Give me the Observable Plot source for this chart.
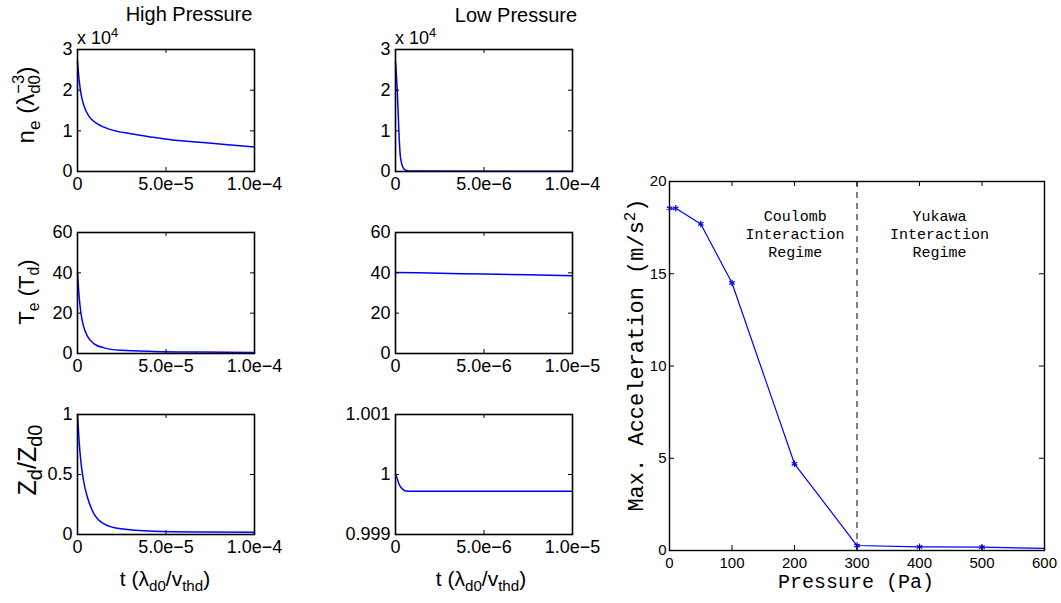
<!DOCTYPE html>
<html><head><meta charset="utf-8">
<script src="https://cdn.jsdelivr.net/npm/d3@7"></script>
<script src="https://cdn.jsdelivr.net/npm/@observablehq/plot@0.6"></script>
<style>
body{margin:0;background:#fff;}
#fig{position:relative;width:1061px;height:603px;overflow:hidden;background:#fff;}
#fig svg{position:absolute;overflow:visible;}
.lbl{position:absolute;white-space:nowrap;font-family:"Liberation Sans",Arial,sans-serif;color:#000;line-height:1;}
.rot{transform:translate(-50%,-50%) rotate(-90deg);}
.ctr{transform:translate(-50%,-50%);}
.stk{display:inline-flex;flex-direction:column;font-size:0.7em;line-height:0.95;vertical-align:0.6em;}
sub,sup{font-size:0.72em;line-height:0;}
.big sub{font-size:0.8em;}
</style></head><body><div id="fig"></div><script>
// ---------- data ----------
// High pressure (time in λd0/vthd)
const tNeHigh = [0, 0.9e-6, 1.9e-6, 3.8e-6, 6.6e-6, 1.13e-5, 1.88e-5, 3.0e-5, 4.14e-5, 5.27e-5, 6.9e-5, 8.5e-5, 1.0e-4];
const neHigh  = [2.71, 2.26, 1.93, 1.60, 1.35, 1.17, 1.03, 0.93, 0.85, 0.78, 0.72, 0.66, 0.60]; // ×10^4
const tTeHigh = [0, 0.9e-6, 1.9e-6, 3.4e-6, 5.6e-6, 9.4e-6, 1.5e-5, 2.45e-5, 4.3e-5, 7.0e-5, 1.0e-4];
const teHigh  = [40.1, 28.5, 20.2, 13.6, 8.6, 4.8, 2.8, 1.6, 1.0, 0.7, 0.5];
const tZdHigh = [0, 0.9e-6, 1.9e-6, 3.4e-6, 5.6e-6, 9.4e-6, 1.5e-5, 2.45e-5, 4.3e-5, 7.0e-5, 1.0e-4];
const zdHigh  = [1.0, 0.78, 0.61, 0.45, 0.31, 0.17, 0.089, 0.047, 0.027, 0.021, 0.019];
// Low pressure
const tNeLow = [0, 1.0e-7, 1.9e-7, 2.8e-7, 4.7e-7, 7.0e-7, 1.0e-5];
const neLow  = [2.7, 2.0, 1.0, 0.35, 0.07, 0.01, 0.005]; // ×10^4
const tTeLow = [0, 2.5e-6, 5.0e-6, 7.5e-6, 1.0e-5];
const teLow  = [40.2, 39.8, 39.4, 39.0, 38.6];
const tZdLow = [0, 1.0e-7, 1.9e-7, 3.8e-7, 6.6e-7, 1.0e-6, 1.0e-5];
const zdLow  = [1.0, 0.99993, 0.999845, 0.99976, 0.99972, 0.99972, 0.99972];
// Max acceleration vs pressure
const pressure = [0, 10, 50, 100, 200, 300, 400, 500, 600];
const accel    = [18.55, 18.55, 17.7, 14.5, 4.7, 0.27, 0.2, 0.18, 0.12];

// tick values and labels
const xTicksHigh = [0, 5e-5, 1e-4];
const xLabelsHigh = ["0", "5.0e\u22125", "1.0e\u22124"];
const xTicksLow = [0, 5e-6, 1e-5];
const xLabelsNeLow = ["0", "5.0e\u22126", "1.0e\u22124"];
const xLabelsLow = ["0", "5.0e\u22126", "1.0e\u22125"];
const yTicksNe = [0, 1, 2, 3];
const yLabelsNe = ["0", "1", "2", "3"];
const yTicksTe = [0, 20, 40, 60];
const yLabelsTe = ["0", "20", "40", "60"];
const yTicksZdHigh = [0, 0.5, 1];
const yLabelsZdHigh = ["0", "0.5", "1"];
const yTicksZdLow = [0.999, 1, 1.001];
const yLabelsZdLow = ["0.999", "1", "1.001"];
const xTicksP = [0, 100, 200, 300, 400, 500, 600];
const xLabelsP = ["0", "100", "200", "300", "400", "500", "600"];
const yTicksA = [0, 5, 10, 15, 20];
const yLabelsA = ["0", "5", "10", "15", "20"];

const zip = (ts, vs) => ts.map((t, i) => ({t, v: vs[i]}));
const BLUE = "#0000ff";

// ---------- helpers ----------
const fig = document.getElementById("fig");
function panel(o) {
  const {left, top, w, h, xDomain, yDomain, xTicks, xLabels, yTicks, yLabels, marks,
         fontSize = 18, font = "Liberation Sans, Arial, sans-serif", xPad = 6, yPad = 5, frameWidth = 1.6, tick = 4} = o;
  const ml = 80, mr = 40, mt = 14, mb = 40;
  const xMap = new Map(xTicks.map((d, i) => [d, xLabels[i]]));
  const yMap = new Map(yTicks.map((d, i) => [d, yLabels[i]]));
  const svg = Plot.plot({
    width: w + ml + mr, height: h + mt + mb,
    marginLeft: ml, marginRight: mr, marginTop: mt, marginBottom: mb,
    x: {domain: xDomain}, y: {domain: yDomain},
    style: {fontFamily: font, fontSize: fontSize + "px", color: "#000", background: "transparent", overflow: "visible"},
    marks: [
      ...marks,
      Plot.ruleX(xTicks, {x: d => d, insetTop: h - tick, stroke: "#000"}),
      Plot.ruleX(xTicks, {x: d => d, insetBottom: h - tick, stroke: "#000"}),
      Plot.ruleY(yTicks, {y: d => d, insetRight: w - tick, stroke: "#000"}),
      Plot.ruleY(yTicks, {y: d => d, insetLeft: w - tick, stroke: "#000"}),
      Plot.frame({stroke: "#000", strokeWidth: frameWidth}),
      Plot.axisX(xTicks, {tickSize: 0, tickPadding: xPad, tickFormat: d => xMap.get(d), label: null, fontSize}),
      Plot.axisY(yTicks, {tickSize: 0, tickPadding: yPad, tickFormat: d => yMap.get(d), label: null, fontSize})
    ]
  });
  svg.style.left = (left - ml) + "px";
  svg.style.top = (top - mt) + "px";
  fig.appendChild(svg);
}
function label(html, x, y, cls, size, font) {
  const d = document.createElement("div");
  d.className = "lbl " + cls;
  d.style.left = x + "px"; d.style.top = y + "px";
  d.style.fontSize = size + "px";
  if (font) d.style.fontFamily = font;
  d.innerHTML = html;
  fig.appendChild(d);
}
const curve = (ts, vs) => Plot.line(zip(ts, vs), {x: "t", y: "v", stroke: BLUE, strokeWidth: 1.5, curve: "monotone-x"});

// ---------- small panels ----------
const colL = 77, colR = 395, pw = 177;
const rows = [[49, 122], [232, 121], [414, 120]];

panel({left: colL, top: rows[0][0], w: pw, h: rows[0][1], xDomain: [0, 1e-4], yDomain: [0, 3],
  xTicks: xTicksHigh, xLabels: xLabelsHigh, yTicks: yTicksNe, yLabels: yLabelsNe, marks: [curve(tNeHigh, neHigh)]});
panel({left: colR, top: rows[0][0], w: pw, h: rows[0][1], xDomain: [0, 1e-5], yDomain: [0, 3],
  xTicks: xTicksLow, xLabels: xLabelsNeLow, yTicks: yTicksNe, yLabels: yLabelsNe, marks: [curve(tNeLow, neLow)]});
panel({left: colL, top: rows[1][0], w: pw, h: rows[1][1], xDomain: [0, 1e-4], yDomain: [0, 60],
  xTicks: xTicksHigh, xLabels: xLabelsHigh, yTicks: yTicksTe, yLabels: yLabelsTe, marks: [curve(tTeHigh, teHigh)]});
panel({left: colR, top: rows[1][0], w: pw, h: rows[1][1], xDomain: [0, 1e-5], yDomain: [0, 60],
  xTicks: xTicksLow, xLabels: xLabelsLow, yTicks: yTicksTe, yLabels: yLabelsTe, marks: [curve(tTeLow, teLow)]});
panel({left: colL, top: rows[2][0], w: pw, h: rows[2][1], xDomain: [0, 1e-4], yDomain: [0, 1],
  xTicks: xTicksHigh, xLabels: xLabelsHigh, yTicks: yTicksZdHigh, yLabels: yLabelsZdHigh, marks: [curve(tZdHigh, zdHigh)]});
panel({left: colR, top: rows[2][0], w: pw, h: rows[2][1], xDomain: [0, 1e-5], yDomain: [0.999, 1.001],
  xTicks: xTicksLow, xLabels: xLabelsLow, yTicks: yTicksZdLow, yLabels: yLabelsZdLow, marks: [curve(tZdLow, zdLow)]});

// ---------- big panel ----------
const accData = pressure.map((p, i) => ({p, a: accel[i]}));
const mono = "Liberation Mono, Courier New, monospace";
panel({left: 669, top: 181, w: 375, h: 369, xDomain: [0, 600], yDomain: [0, 20],
  xTicks: xTicksP, xLabels: xLabelsP, yTicks: yTicksA, yLabels: yLabelsA,
  fontSize: 15, xPad: 7, yPad: 3, frameWidth: 1.4, tick: 5,
  marks: [
    Plot.ruleX([300], {x: d => d, stroke: "#000", strokeWidth: 1, strokeDasharray: "6,5"}),
    Plot.line(accData, {x: "p", y: "a", stroke: BLUE, strokeWidth: 1.2}),
    Plot.dot(accData.filter(d => d.p < 600), {x: "p", y: "a", symbol: "asterisk", r: 3, stroke: BLUE, strokeWidth: 1.2}),
    Plot.text(["Coulomb\nInteraction\nRegime"], {x: 201, y: 17.2, text: d => d, fontFamily: mono, fontSize: 15, lineHeight: 1.2, lineAnchor: "middle", fill: "#000"}),
    Plot.text(["Yukawa\nInteraction\nRegime"], {x: 432, y: 17.2, text: d => d, fontFamily: mono, fontSize: 15, lineHeight: 1.2, lineAnchor: "middle", fill: "#000"})
  ]});

// ---------- text labels ----------
label("High Pressure", 189, 14, "ctr", 20);
label("Low Pressure", 516, 15, "ctr", 20);
label("x 10<sup>4</sup>", 77, 29, "", 18);
label("x 10<sup>4</sup>", 395, 29, "", 18);
label('n<sub>e</sub> (λ<span class="stk"><span>\u22123</span><span>d0</span></span>)', 27, 105, "rot", 24);
label("T<sub>e</sub> (T<sub>d</sub>)", 27, 292, "rot", 22);
label("Z<sub>d</sub>/Z<sub>d0</sub>", 27, 460, "rot big", 25);
label("t (λ<sub>d0</sub>/v<sub>thd</sub>)", 165, 578, "ctr", 21);
label("t (λ<sub>d0</sub>/v<sub>thd</sub>)", 481, 578, "ctr", 21);
label("Pressure (Pa)", 856, 583, "ctr", 20, mono);
label("Max. Acceleration (m/s<sup>2</sup>)", 638, 355, "rot", 22, mono);
</script></body></html>
